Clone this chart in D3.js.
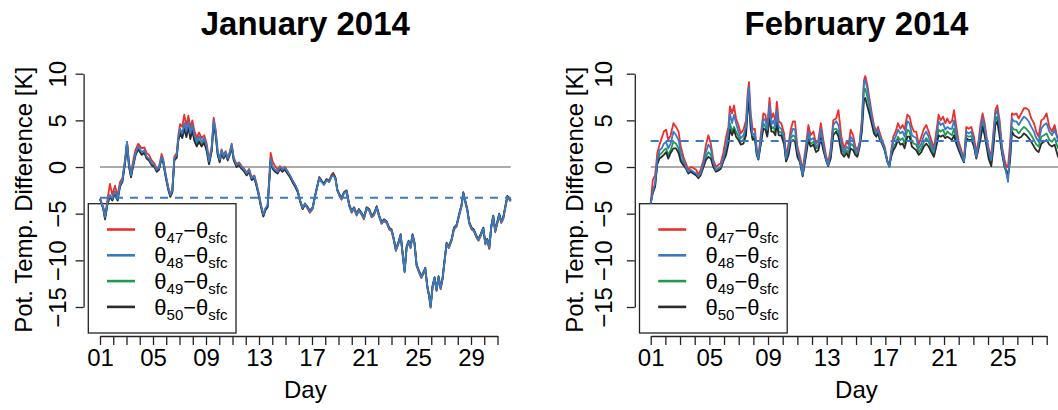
<!DOCTYPE html>
<html>
<head>
<meta charset="utf-8">
<script src="https://cdn.jsdelivr.net/npm/d3@7"></script>
<style>
  body { margin: 0; background: #fff; }
  svg text { font-family: "Liberation Sans", Arial, Helvetica, sans-serif; fill: #000; }
</style>
</head>
<body>
<div class="container"></div>
<script>
// potential temperature difference, two months side by side

// ---- January 2014 ----
const janDay = [
  1.00,1.25,1.38,1.58,1.75,1.93,2.13,2.33,2.51,2.69,
  2.89,3.04,3.19,3.34,3.52,3.69,3.89,4.14,4.35,4.52,
  4.70,4.90,5.10,5.28,5.45,5.65,5.78,5.96,6.16,6.31,
  6.46,6.61,6.79,6.91,7.04,7.21,7.36,7.52,7.67,7.82,
  7.97,8.12,8.30,8.47,8.67,8.87,9.05,9.23,9.43,9.58,
  9.73,9.88,10.03,10.18,10.33,10.48,10.64,10.79,10.94,11.09,
  11.31,11.49,11.69,11.89,12.07,12.25,12.45,12.65,12.82,13.00,
  13.15,13.33,13.49,13.65,13.75,13.88,14.03,14.21,14.41,14.58,
  14.76,14.96,15.14,15.34,15.52,15.72,15.92,16.09,16.29,16.47,
  16.64,16.84,17.05,17.22,17.40,17.55,17.73,17.90,18.10,18.30,
  18.48,18.61,18.76,18.91,19.06,19.23,19.41,19.61,19.81,19.99,
  20.17,20.37,20.54,20.74,20.92,21.12,21.32,21.50,21.67,21.88,
  22.08,22.25,22.43,22.63,22.83,23.01,23.18,23.33,23.51,23.69,
  23.84,23.99,24.14,24.29,24.44,24.59,24.74,24.89,25.07,25.25,
  25.40,25.55,25.70,25.85,25.95,26.10,26.25,26.40,26.55,26.71,
  26.86,27.01,27.16,27.33,27.54,27.71,27.91,28.11,28.29,28.42,
  28.57,28.72,28.87,29.05,29.22,29.42,29.57,29.73,29.93,30.08,
  30.23,30.38,30.53,30.68,30.83,30.98,31.13,31.28,31.43,31.59,
  31.74,31.89,32.00
];

const jan47 = [
  -3.4,-4.3,-5.2,-3.3,-1.8,-3.0,-2.0,-3.1,-1.6,-1.2,
  0.8,2.7,0.5,-0.6,0.8,1.9,2.5,2.0,2.1,1.5,
  1.3,0.7,0.4,-0.2,0.0,1.4,0.8,-0.8,-2.2,-3.0,
  -2.4,1.1,1.5,3.4,4.6,4.3,5.6,4.4,5.5,4.2,
  5.0,3.9,3.1,3.7,3.1,3.4,2.5,0.8,2.2,5.3,
  4.0,1.7,0.9,1.9,1.2,1.7,1.0,1.6,2.5,1.0,
  0.3,0.5,0.1,-0.2,-0.6,-0.2,-1.1,-0.9,-1.8,-2.9,
  -4.1,-5.2,-4.5,-4.2,-1.6,1.5,0.6,0.1,-0.3,0.1,
  -0.2,0.0,-0.4,-0.9,-1.4,-1.9,-2.5,-3.6,-4.5,-4.0,
  -4.4,-4.9,-4.5,-3.2,-2.1,-1.1,-1.5,-1.8,-1.3,-1.5,
  -0.8,-0.6,-1.1,-2.5,-3.1,-3.5,-2.8,-2.6,-4.2,-4.9,
  -4.5,-5.2,-4.7,-5.1,-5.6,-4.5,-4.7,-5.4,-5.2,-4.4,
  -5.4,-6.1,-5.8,-6.0,-6.7,-6.9,-7.9,-9.0,-8.3,-7.4,
  -9.4,-11.3,-8.7,-8.1,-8.7,-7.4,-8.3,-10.6,-11.3,-11.9,
  -11.5,-11.0,-12.9,-14.0,-15.1,-12.9,-12.0,-13.3,-11.9,-13.1,
  -12.0,-10.1,-8.3,-8.7,-7.9,-6.7,-6.4,-5.2,-4.2,-2.8,
  -3.8,-4.7,-6.1,-6.7,-6.9,-7.6,-7.9,-7.4,-6.7,-8.3,
  -7.9,-8.8,-6.5,-5.4,-7.0,-6.1,-5.2,-6.0,-5.6,-4.4,
  -3.3,-3.5,-3.7
];

const jan48 = [
  -3.4,-4.4,-5.4,-3.7,-3.0,-3.4,-2.6,-3.4,-1.9,-1.4,
  0.6,2.7,0.2,-0.9,0.4,1.5,2.2,1.6,1.8,1.1,
  0.9,0.4,0.2,-0.3,-0.1,1.1,0.6,-0.9,-2.3,-3.0,
  -2.5,0.9,1.3,3.1,4.1,3.6,4.7,3.8,4.9,3.6,
  4.5,3.4,2.7,3.3,2.7,3.1,2.2,0.6,2.0,5.0,
  3.8,1.6,0.8,1.8,1.1,1.6,0.9,1.5,2.4,0.9,
  0.2,0.4,0.0,-0.3,-0.7,-0.3,-1.2,-1.0,-1.9,-3.0,
  -4.1,-5.1,-4.4,-4.1,-1.9,0.9,0.0,-0.3,-0.5,0.0,
  -0.3,-0.1,-0.5,-0.9,-1.4,-1.9,-2.5,-3.5,-4.4,-3.9,
  -4.3,-4.8,-4.4,-3.2,-2.1,-1.2,-1.6,-1.9,-1.4,-1.6,
  -1.0,-0.9,-1.2,-2.5,-3.0,-3.4,-2.8,-2.6,-4.1,-4.8,
  -4.4,-5.1,-4.6,-5.0,-5.5,-4.4,-4.6,-5.3,-5.1,-4.3,
  -5.3,-6.0,-5.7,-5.9,-6.6,-6.8,-7.8,-8.9,-8.2,-7.3,
  -9.3,-11.2,-8.6,-8.0,-8.6,-7.3,-8.2,-10.5,-11.2,-11.8,
  -11.4,-10.9,-12.8,-13.9,-15.0,-12.8,-11.9,-13.2,-11.8,-13.0,
  -11.9,-10.0,-8.2,-8.6,-7.8,-6.6,-6.3,-5.1,-4.1,-2.8,
  -3.7,-4.6,-6.0,-6.6,-6.8,-7.5,-7.8,-7.3,-6.6,-8.2,
  -7.8,-8.7,-6.4,-5.3,-6.9,-6.0,-5.1,-5.9,-5.5,-4.3,
  -3.2,-3.4,-3.6
];

const jan49 = [
  -3.4,-4.5,-5.5,-3.8,-3.1,-3.5,-2.7,-3.5,-2.0,-1.5,
  0.5,2.6,0.1,-1.0,0.3,1.4,2.0,1.4,1.6,1.0,
  0.8,0.3,0.1,-0.4,-0.2,1.0,0.5,-1.0,-2.4,-3.1,
  -2.6,0.8,1.1,2.9,3.8,3.3,4.3,3.4,4.5,3.2,
  4.1,3.0,2.4,2.9,2.4,2.8,1.9,0.4,1.8,4.7,
  3.5,1.4,0.6,1.6,1.0,1.5,0.8,1.4,2.2,0.8,
  0.1,0.3,-0.1,-0.4,-0.8,-0.4,-1.3,-1.1,-2.0,-3.1,
  -4.2,-5.2,-4.5,-4.2,-2.0,0.7,-0.1,-0.4,-0.6,-0.1,
  -0.4,-0.2,-0.6,-1.0,-1.5,-2.0,-2.6,-3.5,-4.4,-3.9,
  -4.3,-4.8,-4.4,-3.2,-2.1,-1.2,-1.6,-1.9,-1.4,-1.6,
  -1.0,-0.9,-1.2,-2.5,-3.0,-3.4,-2.8,-2.6,-4.1,-4.8,
  -4.4,-5.1,-4.6,-5.0,-5.5,-4.4,-4.6,-5.3,-5.1,-4.3,
  -5.3,-6.0,-5.7,-5.9,-6.6,-6.8,-7.8,-8.9,-8.2,-7.3,
  -9.3,-11.2,-8.6,-8.0,-8.6,-7.3,-8.2,-10.5,-11.2,-11.8,
  -11.4,-10.9,-12.8,-13.9,-15.0,-12.8,-11.9,-13.2,-11.8,-13.0,
  -11.9,-10.0,-8.2,-8.6,-7.8,-6.6,-6.3,-5.1,-4.1,-2.8,
  -3.7,-4.6,-6.0,-6.6,-6.8,-7.5,-7.8,-7.3,-6.6,-8.2,
  -7.8,-8.7,-6.4,-5.3,-6.9,-6.0,-5.1,-5.9,-5.5,-4.3,
  -3.2,-3.4,-3.6
];

const jan50 = [
  -3.4,-4.5,-5.6,-3.9,-3.2,-3.6,-2.8,-3.6,-2.1,-1.6,
  0.4,2.5,0.0,-1.1,0.2,1.3,1.9,1.3,1.5,0.9,
  0.7,0.2,0.0,-0.5,-0.3,0.9,0.4,-1.1,-2.5,-3.2,
  -2.7,0.7,1.0,2.8,3.6,3.1,4.1,3.2,4.3,3.0,
  3.9,2.8,2.2,2.7,2.2,2.6,1.7,0.3,1.7,4.5,
  3.4,1.3,0.5,1.5,0.9,1.4,0.7,1.3,2.1,0.7,
  0.0,0.2,-0.2,-0.5,-0.9,-0.5,-1.4,-1.2,-2.1,-3.2,
  -4.3,-5.3,-4.6,-4.3,-2.1,0.6,-0.2,-0.5,-0.7,-0.2,
  -0.5,-0.3,-0.7,-1.1,-1.6,-2.1,-2.7,-3.6,-4.5,-4.0,
  -4.2,-4.7,-4.3,-3.1,-2.0,-1.1,-1.5,-1.8,-1.3,-1.5,
  -0.9,-0.8,-1.1,-2.4,-2.9,-3.3,-2.7,-2.5,-4.0,-4.7,
  -4.3,-5.0,-4.5,-4.9,-5.4,-4.3,-4.5,-5.2,-5.0,-4.2,
  -5.2,-5.9,-5.6,-5.8,-6.5,-6.7,-7.7,-8.8,-8.1,-7.2,
  -9.2,-11.1,-8.5,-7.9,-8.5,-7.2,-8.1,-10.4,-11.1,-11.7,
  -11.3,-10.8,-12.7,-13.8,-14.9,-12.7,-11.8,-13.1,-11.7,-12.9,
  -11.8,-9.9,-8.1,-8.5,-7.7,-6.5,-6.2,-5.0,-4.0,-2.7,
  -3.6,-4.5,-5.9,-6.5,-6.7,-7.4,-7.7,-7.2,-6.5,-8.1,
  -7.7,-8.6,-6.3,-5.2,-6.8,-5.9,-5.0,-5.8,-5.4,-4.2,
  -3.1,-3.3,-3.5
];

const janMean = -3.3;

// ---- February 2014 ----
const febDay = [
  1.00,1.14,1.30,1.45,1.60,1.75,1.90,2.05,2.20,2.36,
  2.55,2.73,2.90,3.05,3.23,3.40,3.57,3.73,3.90,4.10,
  4.25,4.40,4.60,4.77,4.93,5.10,5.27,5.45,5.60,5.77,
  5.95,6.14,6.30,6.40,6.55,6.68,6.82,6.98,7.14,7.32,
  7.50,7.61,7.70,7.82,7.95,8.10,8.23,8.34,8.50,8.68,
  8.82,8.95,9.10,9.23,9.36,9.50,9.60,9.73,9.90,10.10,
  10.23,10.40,10.55,10.70,10.84,11.00,11.18,11.36,11.60,11.75,
  11.90,12.10,12.27,12.43,12.60,12.77,12.95,13.10,13.27,13.45,
  13.64,13.80,14.00,14.18,14.36,14.50,14.63,14.80,14.95,15.09,
  15.25,15.40,15.54,15.63,15.77,15.93,16.09,16.22,16.38,16.50,
  16.63,16.77,16.95,17.13,17.27,17.40,17.54,17.70,17.86,18.02,
  18.18,18.31,18.50,18.65,18.81,18.95,19.11,19.27,19.45,19.63,
  19.79,19.95,20.13,20.31,20.50,20.63,20.77,20.93,21.09,21.22,
  21.38,21.54,21.68,21.84,22.00,22.18,22.36,22.52,22.68,22.86,
  23.04,23.20,23.36,23.50,23.63,23.77,23.90,24.04,24.22,24.36,
  24.50,24.63,24.79,24.95,25.13,25.27,25.36,25.50,25.63,25.77,
  25.93,26.09,26.27,26.45,26.61,26.77,26.95,27.13,27.29,27.45,
  27.63,27.81,27.99,28.18,28.36,28.54,28.77,29.00
];

const feb47 = [
  -3.9,-1.4,-0.9,1.5,2.4,3.1,3.8,4.0,2.9,3.4,
  4.7,4.3,3.8,2.2,1.1,0.4,-0.3,0.0,-0.1,-0.3,
  -0.85,-0.3,0.75,2.4,3.4,2.5,0.75,0.0,0.2,0.4,
  1.5,3.25,4.3,6.5,5.75,6.6,5.2,4.5,3.6,4.0,
  5.0,7.9,9.1,5.75,4.0,4.1,2.0,1.1,3.4,5.75,
  5.6,4.3,7.4,5.2,5.75,4.9,7.0,4.9,4.7,3.6,
  1.1,2.5,4.0,4.9,4.9,2.2,1.1,-0.3,2.5,4.5,
  3.4,3.8,2.5,2.9,4.7,2.9,1.3,0.4,2.0,5.0,
  5.2,6.1,3.25,2.0,2.7,2.4,4.0,3.4,2.2,1.8,
  2.7,5.2,9.3,9.75,8.8,7.2,5.6,4.5,3.8,4.3,
  3.6,2.9,2.2,0.75,0.1,1.8,3.25,3.8,4.7,4.1,
  4.5,4.0,5.6,5.4,4.3,3.8,3.8,2.4,3.25,4.1,
  4.5,3.8,2.9,2.0,4.1,5.6,5.0,5.4,4.7,5.2,
  4.7,4.9,6.1,4.3,2.7,1.8,0.75,4.3,4.1,4.3,
  3.25,1.5,2.9,4.7,5.75,4.7,3.25,2.0,1.1,3.6,
  6.1,6.6,5.0,2.2,0.75,0.0,0.0,2.5,5.75,5.6,
  5.75,5.2,5.75,6.3,6.3,6.1,5.2,4.7,3.8,3.25,
  5.0,5.2,5.75,4.3,3.8,4.5,2.9,3.5
];

const feb48 = [
  -3.9,-2.6,-1.75,0.75,1.8,2.0,2.5,2.7,2.0,2.5,
  3.8,3.4,2.9,1.5,0.75,0.0,-0.5,-0.3,-0.5,-0.7,
  -1.0,-0.7,0.4,1.6,2.4,2.0,0.4,-0.3,-0.15,0.0,
  0.9,2.2,3.8,5.75,4.7,5.6,4.7,3.8,3.1,3.4,
  4.3,7.2,8.6,5.0,3.4,3.6,1.6,0.9,2.9,5.2,
  5.0,4.0,6.6,4.5,5.0,4.3,6.1,4.3,4.1,3.1,
  0.9,2.0,3.4,4.1,4.0,1.8,0.75,-0.85,2.0,3.8,
  2.9,3.1,2.2,2.4,4.1,2.4,0.9,0.2,1.5,4.5,
  4.9,4.5,2.5,1.6,2.2,1.9,3.25,2.9,1.8,1.5,
  2.5,4.7,9.0,9.3,8.4,6.8,5.2,4.3,3.6,4.0,
  3.25,2.7,2.0,0.6,0.0,1.5,2.7,3.25,4.0,3.6,
  3.8,3.25,4.9,4.7,3.4,3.25,3.1,2.0,2.5,3.4,
  3.8,3.25,2.4,1.6,3.4,4.9,4.5,4.7,4.0,4.3,
  4.1,4.1,5.0,3.6,2.2,1.5,0.6,3.8,3.6,3.8,
  2.7,1.1,2.5,4.1,5.2,4.3,2.9,1.6,0.75,3.1,
  5.6,6.1,4.5,1.8,0.2,-0.85,-1.6,1.5,5.2,4.9,
  4.9,4.5,5.0,5.4,5.2,4.9,4.3,3.8,3.1,2.7,
  4.1,4.5,4.7,3.8,3.4,4.0,2.9,3.0
];

const feb49 = [
  -3.9,-2.7,-2.0,0.5,1.3,1.5,1.8,2.0,1.3,1.8,
  2.7,2.5,2.0,0.9,0.4,-0.1,-0.6,-0.4,-0.6,-0.8,
  -1.1,-0.8,0.2,1.1,1.6,1.3,0.2,-0.4,-0.3,-0.1,
  0.75,1.6,2.9,4.7,3.8,4.3,3.8,3.25,2.7,2.9,
  3.8,6.5,7.5,4.5,3.1,3.3,1.4,0.85,2.5,4.7,
  4.3,3.6,5.75,4.1,4.3,3.8,5.2,3.8,3.7,2.7,
  0.6,1.6,3.1,3.4,3.25,1.5,0.6,-0.9,1.6,3.25,
  2.5,2.7,2.0,2.1,3.6,2.1,0.8,0.15,1.1,4.0,
  4.1,3.8,2.0,1.4,1.8,1.5,2.5,2.3,1.6,1.3,
  2.4,4.1,8.25,8.4,7.5,6.3,4.9,3.9,3.4,3.8,
  3.0,2.6,1.9,0.6,0.05,1.3,2.2,2.5,3.25,2.9,
  3.1,2.5,4.0,3.8,2.7,2.5,2.4,1.6,2.0,2.7,
  3.1,2.7,2.0,1.3,2.7,4.0,3.8,4.0,3.4,3.8,
  3.6,3.4,4.1,2.9,2.0,1.3,0.55,3.4,3.25,3.3,
  2.4,1.0,2.2,3.6,4.7,3.8,2.5,1.3,0.5,2.5,
  5.0,5.4,3.8,1.6,0.1,-0.6,-1.1,1.0,4.3,4.0,
  4.0,3.6,4.0,4.3,4.1,3.8,3.4,2.9,2.4,2.2,
  3.25,3.4,3.6,2.9,2.7,3.1,2.0,2.4
];

const feb50 = [
  -3.9,-2.8,-2.1,0.3,0.9,1.1,1.3,1.6,0.9,1.5,
  2.0,2.0,1.5,0.6,0.2,-0.15,-0.7,-0.5,-0.7,-0.9,
  -1.2,-0.9,0.0,0.75,1.1,0.9,0.0,-0.5,-0.4,-0.2,
  0.6,1.3,2.5,4.0,3.4,4.0,3.25,2.9,2.4,2.5,
  3.4,6.1,7.0,4.1,2.9,3.1,1.3,0.8,2.4,4.1,
  4.0,3.25,5.2,3.8,3.8,3.4,4.7,3.4,3.4,2.4,
  0.6,1.3,2.7,2.9,2.7,1.1,0.5,-1.0,1.3,2.9,
  2.2,2.4,1.6,1.8,3.1,1.8,0.75,0.1,0.9,3.4,
  3.8,3.25,1.5,1.1,1.5,1.0,2.0,1.8,1.3,1.1,
  2.2,3.8,7.2,7.4,6.5,5.6,4.5,3.6,3.25,3.6,
  2.9,2.5,1.8,0.6,0.1,1.1,1.8,2.2,2.9,2.4,
  2.5,2.0,3.25,3.25,2.2,2.0,1.8,1.3,1.6,2.2,
  2.5,2.2,1.6,1.1,2.4,3.4,3.25,3.4,3.1,3.25,
  3.1,2.9,3.4,2.5,1.8,1.1,0.5,3.1,2.9,2.9,
  2.2,0.9,2.0,3.1,4.3,3.4,2.2,0.9,0.1,2.0,
  4.5,4.9,3.25,1.5,0.0,-0.5,-0.9,0.6,3.8,3.4,
  3.25,3.1,3.25,3.6,3.4,3.1,2.7,2.2,1.8,1.6,
  2.5,2.7,2.9,2.4,2.2,2.4,1.1,1.8
];

const febMean = 2.8;

// labels
const seriesLevels = ["47", "48", "49", "50"];
const seriesColors = ["#e8302c", "#3b79c3", "#1f9a55", "#2b2b2b"];
const yTicks = [-15, -10, -5, 0, 5, 10];
const janLabeled = [1, 5, 9, 13, 17, 21, 25, 29];
const febLabeled = [1, 5, 9, 13, 17, 21, 25];

const w = 1058;
const h = 410;

const svg = d3
  .select(".container")
  .append("svg")
  .attr("width", w)
  .attr("height", h);

const yScale = d3.scaleLinear().domain([-15, 10]).range([307, 73.7]);

const panels = [
  {
    title: "January 2014", days: janDay,
    series: [jan47, jan48, jan49, jan50], mean: janMean,
    lastTick: 31, labeled: janLabeled,
    px: [100, 497.5], left: 83.6, right: 527,
    tickLabX: 66, yTitleX: 32
  },
  {
    title: "February 2014", days: febDay,
    series: [feb47, feb48, feb49, feb50], mean: febMean,
    lastTick: 28, labeled: febLabeled,
    px: [650.7, 1046.7], left: 634.8, right: 1078,
    tickLabX: 612, yTitleX: 583
  }
];

const pad2 = (d) => (d < 10 ? "0" + d : "" + d);

panels.forEach((p) => {
  const xScale = d3.scaleLinear().domain([1, p.lastTick]).range(p.px);
  const g = svg.append("g");
  const first = p.days[0];
  const last = p.days[p.days.length - 1];

  // zero reference
  g.append("line")
    .attr("x1", xScale(first)).attr("x2", xScale(last))
    .attr("y1", yScale(0)).attr("y2", yScale(0))
    .attr("stroke", "#ababab").attr("stroke-width", 2);

  // legend frame
  const lx = p.left + 4.7, ly = 203.7;
  g.append("rect")
    .attr("x", lx).attr("y", ly)
    .attr("width", 147.7).attr("height", 129.3)
    .attr("fill", "none").attr("stroke", "#222").attr("stroke-width", 1.3);

  // series: red, green, black, then blue on top
  const line = d3.line()
    .x((d, i) => xScale(p.days[i]))
    .y((d) => yScale(d));
  [0, 2, 3, 1].forEach((k) => {
    g.append("path")
      .datum(p.series[k])
      .attr("d", line)
      .attr("fill", "none")
      .attr("stroke", seriesColors[k])
      .attr("stroke-width", 1.8)
      .attr("stroke-linejoin", "round");
  });

  // mean of theta48 - theta_sfc
  g.append("line")
    .attr("x1", xScale(first)).attr("x2", xScale(last))
    .attr("y1", yScale(p.mean)).attr("y2", yScale(p.mean))
    .attr("stroke", "#3b79c3").attr("stroke-width", 2)
    .attr("stroke-dasharray", "8,7");

  // x axis
  const xAxis = d3.axisBottom(xScale)
    .tickValues(d3.range(1, p.lastTick + 1))
    .tickSizeInner(9).tickSizeOuter(0)
    .tickFormat((d) => (p.labeled.includes(d) ? pad2(d) : ""));
  const gx = g.append("g").attr("transform", `translate(0,${336})`).call(xAxis);
  gx.selectAll("path, line").attr("stroke", "#222").attr("stroke-width", 1.3);
  gx.selectAll("text").attr("font-size", "24px").attr("fill", "#000")
    .attr("font-family", '"Liberation Sans", Arial, sans-serif')
    .attr("dy", null).attr("y", 30);

  // y axis
  const yAxis = d3.axisLeft(yScale)
    .tickValues(yTicks).tickSizeInner(8).tickSizeOuter(0)
    .tickFormat((d) => (d < 0 ? "\u2212" + Math.abs(d) : "" + d));
  const gy = g.append("g").attr("transform", `translate(${p.left},0)`).call(yAxis);
  gy.selectAll("path, line").attr("stroke", "#222").attr("stroke-width", 1.3);
  gy.selectAll("text")
    .attr("font-size", "24px").attr("fill", "#000")
    .attr("font-family", '"Liberation Sans", Arial, sans-serif')
    .attr("text-anchor", "middle")
    .attr("x", null).attr("dy", null)
    .attr("transform", `translate(${p.tickLabX - p.left},0) rotate(-90)`);

  // titles
  const mid = (p.left + p.right) / 2;
  g.append("text")
    .attr("x", mid).attr("y", 35)
    .attr("text-anchor", "middle")
    .attr("font-size", "33px").attr("font-weight", "bold")
    .text(p.title);
  g.append("text")
    .attr("x", mid).attr("y", 398)
    .attr("text-anchor", "middle")
    .attr("font-size", "24px")
    .text("Day");
  g.append("text")
    .attr("transform", `translate(${p.yTitleX},${(63.6 + 336) / 2}) rotate(-90)`)
    .attr("text-anchor", "middle")
    .attr("font-size", "24px")
    .text("Pot. Temp. Difference [K]");

  // legend entries
  seriesLevels.forEach((lev, i) => {
    const ry = ly + 25.8 + i * 25.8;
    g.append("line")
      .attr("x1", lx + 18.7).attr("x2", lx + 46.7)
      .attr("y1", ry).attr("y2", ry)
      .attr("stroke", seriesColors[i]).attr("stroke-width", 2.6);
    const t = g.append("text")
      .attr("x", lx + 66).attr("y", ry + 8)
      .attr("font-size", "22px");
    t.append("tspan").text("\u03b8");
    t.append("tspan").attr("font-size", "15px").attr("dy", 5).text(lev);
    t.append("tspan").attr("dy", -5).text("\u2212\u03b8");
    t.append("tspan").attr("font-size", "15px").attr("dy", 5).text("sfc");
  });
});
</script>
</body>
</html>
